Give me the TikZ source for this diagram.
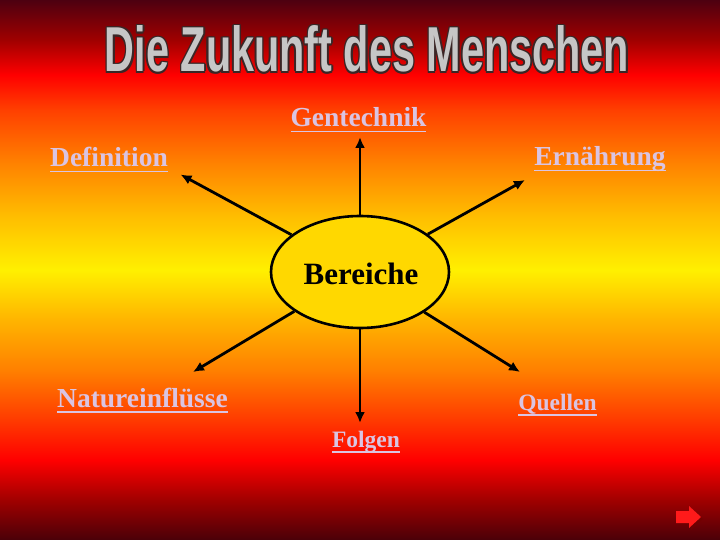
\documentclass[tikz,border=0pt]{standalone}
\usepackage{fontspec}
\setmainfont{Liberation Serif}
\newfontfamily\titlefont{Liberation Sans}
\usetikzlibrary{arrows.meta,shapes.geometric}
\usepackage{xcolor}
\definecolor{bgA}{HTML}{4A0008}
\definecolor{bgB}{HTML}{A00000}
\definecolor{bgC}{HTML}{FF0000}
\definecolor{bgD}{HTML}{FF4000}
\definecolor{bgE}{HTML}{FF8400}
\definecolor{bgF}{HTML}{FFBC00}
\definecolor{bgG}{HTML}{FFF000}
\definecolor{bgH}{HTML}{FFB400}
\definecolor{bgI}{HTML}{FF8000}
\definecolor{bgJ}{HTML}{FF3A00}
\definecolor{bgK}{HTML}{4D0010}
\definecolor{linkpink}{HTML}{DAC4E2}
\definecolor{ellgold}{HTML}{FFD800}
\definecolor{titlegrey}{HTML}{C6C6C6}
\definecolor{titleedge}{HTML}{3A2626}
\definecolor{btnred}{HTML}{FF1A1A}
\definecolor{btnshadow}{HTML}{700000}
\pgfdeclareverticalshading{slidebg}{100bp}{color(0bp)=(bgA); color(25bp)=(bgA);
  color(28.7bp)=(bgB); color(32.41bp)=(bgC); color(36.11bp)=(bgJ);
  color(40.74bp)=(bgI); color(45.37bp)=(bgH); color(50bp)=(bgG);
  color(55.09bp)=(bgF); color(59.72bp)=(bgE); color(64.81bp)=(bgD);
  color(68.06bp)=(bgC); color(71.3bp)=(bgB); color(75bp)=(bgK); color(100bp)=(bgK)}
\tikzset{
  lnk/.style={text=linkpink,font=\fontsize{27.5}{28}\selectfont\bfseries,anchor=base,inner sep=0pt},
  lnksmall/.style={lnk,font=\fontsize{23.5}{24}\selectfont\bfseries},
  arr/.style={line width=2.8pt,-{Latex[length=11pt,width=10pt]}},
  ttl/.style={anchor=base,inner sep=0pt},
}
\newsavebox{\lnkbox}
\newcommand{\lnktext}[1]{\sbox{\lnkbox}{#1}\rlap{\usebox{\lnkbox}}\rule[-5.5pt]{\wd\lnkbox}{1.8pt}}
\newcommand{\ttltext}{\resizebox{524pt}{46pt}{\titlefont\bfseries Die Zukunft des Menschen}}

\begin{document}
\begin{tikzpicture}[x=1pt,y=-1pt]
	\useasboundingbox (0,0) rectangle (720,540);
	\shade[shading=slidebg] (0,0) rectangle (720,540);
	% title with dark edge
	\foreach \dx/\dy [count=\i] in {-1.6/0,1.6/0,0/-1.6,0/1.6,-1.2/-1.2,1.2/1.2,-1.2/1.2,1.2/-1.2}
		\node[ttl,text=titleedge,xshift=\dx pt,yshift=\dy pt] (ttledge\i) at (367,72) {\ttltext};
	\node[ttl,text=titlegrey] (title) at (367,72) {\ttltext};
	% centre
	\node[ellipse,draw,line width=2.6pt,fill=ellgold,minimum width=178pt,minimum height=112pt,inner sep=0pt,
		font=\fontsize{31}{31}\selectfont\bfseries] (ber) at (360,272) {};
	\node[anchor=base,inner sep=0pt,font=\fontsize{31}{31}\selectfont\bfseries] (bertext) at (361,284) {Bereiche};
	% labels
	\node[lnk] (gen) at (358.5,127) {\lnktext{Gentechnik}};
	\node[lnk] (def) at (109,167) {\lnktext{Definition}};
	\node[lnk] (ern) at (600,166) {\lnktext{Ernährung}};
	\node[lnk] (nat) at (142.5,407) {\lnktext{Natureinflüsse}};
	\node[lnksmall] (que) at (557.5,410) {\lnktext{Quellen}};
	\node[lnksmall] (fol) at (366,447) {\lnktext{Folgen}};
	% arrow tips
	\coordinate (tgen) at (360,137);
	\coordinate (tdef) at (180.5,174.5);
	\coordinate (tern) at (525,180);
	\coordinate (tnat) at (193,372);
	\coordinate (tque) at (520,372);
	\coordinate (tfol) at (360,423);
	\draw[arr] (ber) -- (tgen);
	\draw[arr] (ber) -- (tdef);
	\draw[arr] (ber) -- (tern);
	\draw[arr] (ber) -- (tnat);
	\draw[arr] (ber) -- (tque);
	\draw[arr] (ber) -- (tfol);
	% next button
	\fill[btnshadow,opacity=0.6] (678,513) -- (691,513) -- (691,508) -- (703,519) -- (691,530) -- (691,525) -- (678,525) -- cycle;
	\fill[btnred] (676,511) -- (689,511) -- (689,506) -- (701,517) -- (689,528) -- (689,523) -- (676,523) -- cycle;
\end{tikzpicture}
\end{document}
